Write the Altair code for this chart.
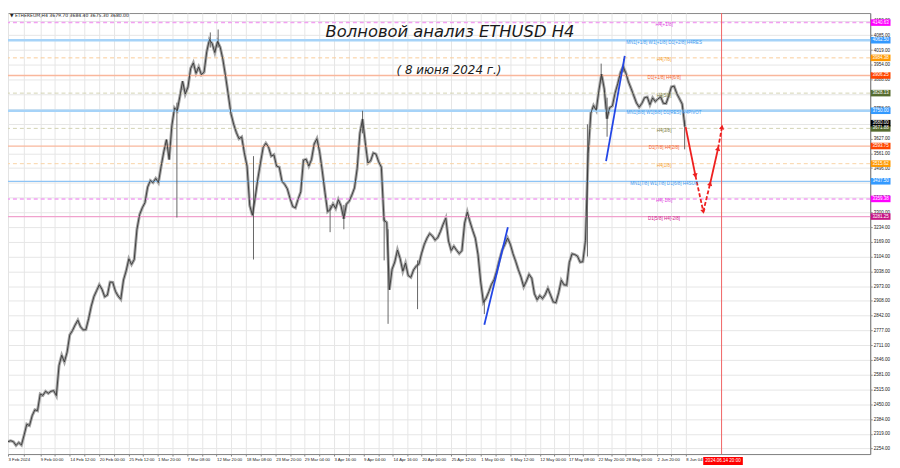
import altair as alt
import pandas as pd

# ---------------- data ----------------
# 12-hour closes of ETHUSD starting 3 Feb 2024 00:00
close = [
    2284, 2288, 2284, 2267, 2280, 2269, 2313, 2361, 2355, 2399,
    2425, 2421, 2495, 2489, 2507, 2498, 2507, 2510, 2488, 2621,
    2667, 2637, 2680, 2757, 2776, 2801, 2822, 2793, 2779, 2780,
    2828, 2884, 2927, 2953, 2979, 2959, 2926, 2933, 2991, 2990,
    2950, 2929, 2915, 3000, 3041, 3094, 3069, 3091, 3224, 3290,
    3320, 3343, 3412, 3441, 3432, 3450, 3432, 3503, 3568, 3622,
    3534, 3683, 3763, 3750, 3814, 3881, 3824, 3855, 3937, 3962,
    3916, 3944, 3910, 3921, 4012, 4066, 4048, 4008, 4057, 4032,
    3977, 3903, 3822, 3738, 3691, 3654, 3626, 3634, 3563, 3504,
    3330, 3287, 3363, 3447, 3519, 3588, 3606, 3589, 3549, 3555,
    3505, 3500, 3438, 3424, 3404, 3362, 3326, 3320, 3358, 3391,
    3531, 3535, 3505, 3534, 3603, 3626, 3569, 3484, 3389, 3303,
    3313, 3337, 3317, 3356, 3328, 3272, 3336, 3349, 3376, 3408,
    3494, 3650, 3713, 3611, 3518, 3528, 3563, 3558, 3524, 3500,
    3265, 3255, 2957, 3048, 3080, 3133, 3095, 3039, 3075, 3020,
    3012, 3045, 3062, 3071, 3119, 3158, 3186, 3206, 3195, 3177,
    3188, 3215, 3247, 3274, 3173, 3131, 3150, 3132, 3117, 3130,
    3252, 3301, 3258, 3220, 3185, 3112, 2991, 2901, 2919, 2948,
    2981, 3002, 3043, 3091, 3133, 3158, 3186, 3159, 3117, 3083,
    3046, 3013, 2970, 2995, 3025, 3008, 2939, 2913, 2931, 2918,
    2935, 2963, 2933, 2903, 2900, 2943, 2999, 2979, 2977, 3078,
    3116, 3113, 3106, 3079, 3081, 3175, 3560, 3740, 3773, 3752,
    3841, 3912, 3846, 3715, 3764, 3771, 3827, 3869, 3918, 3945,
    3918, 3878, 3848, 3816, 3784, 3766, 3783, 3808, 3811, 3777,
    3807, 3791, 3803, 3811, 3783, 3782, 3816, 3856, 3859, 3826,
    3803, 3780, 3680,
]
step_days = 0.5
days = [i * step_days for i in range(len(close))]

# long wicks (day, high, low)
wick_day = [31.44, 37.66, 39.12, 45.70, 59.96, 62.52, 66.00, 70.02, 70.75, 76.24,
            88.67, 107.86, 110.42, 111.52, 114.63, 125.96]
wick_high = [3786, 4097, 4110, 3549, 3333, 3333, 3750, 3277, 3225, 3087,
             2914, 3690, 3959, 3808, 3980, 3708]
wick_low = [3277, 4030, 4030, 3091, 3212, 3225, 3650, 3087, 2806, 2871,
            2849, 3104, 3885, 3635, 3920, 3579]

# Murrey levels
level_price = [4140.63, 4062.50, 3984.38, 3906.25, 3828.13, 3750.00,
               3671.88, 3593.75, 3515.62, 3437.50, 3359.38, 3281.25]
level_text = ["H4[+1/8]", "MN1[+1/8] W1[+1/8] D1[+2/8] H4RES", "H4[7/8]",
              "D1[+1/8] H4[6/8]", "H4[5/8]", "MN1[8/8] W1[8/8] D1[RES] H4PIVOT",
              "H4[3/8]", "D1[7/8] H4[2/8]", "H4[1/8]", "MN1[7/8] W1[7/8] D1[6/8] H4SUP",
              "H4[-1/8]", "D1[5/8] H4[-2/8]"]
level_line_color = ["#f2a0f2", "#a6d3f8", "#f9cb98", "#f9b79c", "#d3d3b4", "#a6d3f8",
                    "#d3d3b4", "#f9b79c", "#f9d3a6", "#8ec4f5", "#f2a0f2", "#f0a2cd"]
level_width = [1.5, 2.5, 1, 1.3, 1, 2.5, 1, 1.3, 1, 1.3, 1.5, 1.3]
level_dashed = [True, False, True, False, True, False, True, False, True, False, True, False]
level_text_color = ["#e03ce0", "#3d9bf0", "#f5a030", "#f2622e", "#7c7c40", "#3d9bf0",
                    "#7c7c40", "#f2622e", "#f5a030", "#3d9bf0", "#e03ce0", "#d0208a"]
level_box_color = ["#ff00ff", "#3399ff", "#ff9900", "#ff4500", "#556b2f", "#3399ff",
                   "#556b2f", "#ff4500", "#ff9900", "#3399ff", "#ff00ff", "#c71585"]

current_price = 3680.00
current_box_pos = 3695

# wave lines (blue)
wave_id = [1, 1, 2, 2]
wave_day = [88.67, 93.05, 111.33, 114.81]
wave_price = [2802, 3234, 3527, 3993]

# forecast path (red)
fc_day = [126.14, 127.97, 129.43, 130.71, 132.18, 132.91]
fc_price = [3678, 3462, 3303, 3428, 3583, 3678]
fc_seg_dashed = [False, True, True, False, True]
fc_arrow_angle = [169, 168, 14, 12.5, 10]

# axes
price_ticks = [2254, 2319, 2384, 2450, 2515, 2581, 2646, 2711, 2777, 2842, 2908, 2973,
               3038, 3104, 3169, 3234, 3300, 3365, 3430, 3496, 3561, 3627, 3692, 3758,
               3823, 3888, 3954, 4019, 4085, 4150]
hidden_price_labels = [3430, 3823]  # covered by level boxes in the reference
time_label_day = [0, 6, 11.5, 17, 22.5, 27.833, 33.333, 38.833, 44.333, 49.833, 55.167,
                  60.667, 66.167, 71.667, 77, 82.5, 88, 93.5, 99, 104.333, 109.833, 115,
                  120.833, 126.167]
time_label_text = ["3 Feb 2024", "9 Feb 00:00", "14 Feb 12:00", "20 Feb 00:00",
                   "25 Feb 12:00", "1 Mar 20:00", "7 Mar 08:00", "12 Mar 20:00",
                   "18 Mar 08:00", "23 Mar 20:00", "29 Mar 04:00", "3 Apr 16:00",
                   "9 Apr 04:00", "14 Apr 16:00", "20 Apr 00:00", "25 Apr 12:00",
                   "1 May 00:00", "6 May 12:00", "12 May 00:00", "17 May 08:00",
                   "22 May 20:00", "28 May 00:00", "2 Jun 20:00", "8 Jun 04"]
now_line_day = 132.833
now_line_text = "2024.06.14 20:00"

header_text = "\u25bc ETHEREUM,H4  3679.70 3684.40 3675.30 3680.00"
title_text = "Волновой анализ ETHUSD H4"
subtitle_text = "( 8 июня 2024 г.)"

# ---------------- chart ----------------
W, H = 870, 445
FS = 4.6
xs = alt.Scale(domain=[0, 160.5], nice=False, zero=False)
ys = alt.Scale(domain=[2229, 4183], nice=False, zero=False)

mid_days = [(a + b) / 2 for a, b in zip(time_label_day[:-1], time_label_day[1:])]
grid_days = sorted(time_label_day + mid_days)
expr = "''"
for d, t in reversed(list(zip(time_label_day, time_label_text))):
    expr = f"abs(datum.value - {d}) < 0.01 ? '{t}' : ({expr})"

hidden_cond = " || ".join(f"datum.value == {v}" for v in hidden_price_labels)
y_expr = f"({hidden_cond}) ? '' : format(datum.value, '.2f')"

x_axis = alt.Axis(values=grid_days, labelExpr=expr, labelAlign="left", labelFontSize=4.3,
                  labelColor="#222", labelPadding=1.5, labelOverlap=False, labelFlush=False,
                  tickSize=2, tickColor="#888", domainColor="#888", gridColor="#e6e6e6",
                  gridWidth=1, title=None, labelFont="Liberation Sans")
y_axis = alt.Axis(orient="right", values=price_ticks, labelExpr=y_expr,
                  labelAlign="left", labelFontSize=FS, labelColor="#222", labelPadding=1,
                  labelOverlap=False, labelFlush=False, tickSize=2, tickColor="#888",
                  domainColor="#888", gridColor="#e6e6e6", gridWidth=1, title=None,
                  labelFont="Liberation Sans")

price_df = pd.DataFrame({"day": days, "close": close})
wick_df = pd.DataFrame({"day": wick_day, "high": wick_high, "low": wick_low})
lev_df = pd.DataFrame({
    "price": level_price, "label": level_text, "line_color": level_line_color,
    "width": level_width, "dashed": level_dashed, "text_color": level_text_color,
})
box_df = pd.DataFrame({
    "price": level_price + [current_box_pos],
    "box_color": level_box_color + ["#000000"],
    "box_text": [f"{p:.2f}" for p in level_price] + [f"{current_price:.2f}"],
})
wave_df = pd.DataFrame({"id": wave_id, "day": wave_day, "price": wave_price})
seg_rows = []
for s, dashed in enumerate(fc_seg_dashed):
    for k in (s, s + 1):
        seg_rows.append({"seg": s, "day": fc_day[k], "price": fc_price[k], "dashed": dashed})
seg_df = pd.DataFrame(seg_rows)
arrow_df = pd.DataFrame({"day": fc_day[1:], "price": fc_price[1:], "ang": fc_arrow_angle})


def X(f):
    return alt.X(f, type="quantitative", scale=xs, axis=x_axis)


def Y(f):
    return alt.Y(f, type="quantitative", scale=ys, axis=y_axis)


base = alt.Chart(price_df).mark_line(color="#a6a6a6", strokeWidth=3).encode(
    x=X("day"), y=Y("close"))

lev_solid = alt.Chart(lev_df).transform_filter("!datum.dashed").mark_rule().encode(
    y=Y("price"), color=alt.Color("line_color:N", scale=None),
    strokeWidth=alt.StrokeWidth("width:Q", scale=None))
lev_dashed = alt.Chart(lev_df).transform_filter("datum.dashed").mark_rule(strokeDash=[4, 3]).encode(
    y=Y("price"), color=alt.Color("line_color:N", scale=None),
    strokeWidth=alt.StrokeWidth("width:Q", scale=None))

now_rule = alt.Chart(pd.DataFrame({"day": [now_line_day]})).mark_rule(
    color="#f06464", strokeWidth=1).encode(x=X("day"))

wicks = alt.Chart(wick_df).mark_rule(color="#666", strokeWidth=1).encode(
    x=X("day"), y=Y("low"), y2="high")
front = alt.Chart(price_df).mark_line(color="#353535", strokeWidth=0.9).encode(
    x=X("day"), y=Y("close"))

waves = alt.Chart(wave_df).mark_line(color="#2346e6", strokeWidth=1.8).encode(
    x=X("day"), y=Y("price"), detail="id:N")

fc_solid = alt.Chart(seg_df).transform_filter("!datum.dashed").mark_line(
    color="#ee2020", strokeWidth=1.8).encode(x=X("day"), y=Y("price"), detail="seg:N")
fc_dash = alt.Chart(seg_df).transform_filter("datum.dashed").mark_line(
    color="#ee2020", strokeWidth=1.8, strokeDash=[4, 2]).encode(
    x=X("day"), y=Y("price"), detail="seg:N")
arrows = alt.Chart(arrow_df).mark_point(shape="triangle-up", size=28, filled=True,
                                         color="#ee2020", opacity=1).encode(
    x=X("day"), y=Y("price"), angle=alt.Angle("ang:Q", scale=None))

lev_text = alt.Chart(lev_df).mark_text(fontSize=FS, align="center", baseline="middle",
                                        dy=2.5, font="Liberation Sans").encode(
    x=alt.value(662), y=Y("price"), text="label:N",
    color=alt.Color("text_color:N", scale=None))

BOX = "M-1,-0.33H1V0.33H-1Z"
boxes = alt.Chart(box_df).mark_point(shape=BOX, size=400, filled=True, opacity=1,
                                      strokeWidth=0).encode(
    x=alt.value(880.5), y=Y("price"), color=alt.Color("box_color:N", scale=None))
box_text = alt.Chart(box_df).mark_text(fontSize=FS, color="white", align="center",
                                        baseline="middle", font="Liberation Sans").encode(
    x=alt.value(880.5), y=Y("price"), text="box_text:N")

tdf = pd.DataFrame({"t": [now_line_text]})
time_box = alt.Chart(tdf).mark_point(shape="M-1,-0.2H1V0.2H-1Z", size=1600, filled=True,
                                      opacity=1, strokeWidth=0, color="#ff0000").encode(
    x=alt.value(721.5), y=alt.value(452))
time_text = alt.Chart(tdf).mark_text(fontSize=FS, color="white", align="center",
                                      baseline="middle", font="Liberation Sans").encode(
    x=alt.value(721.5), y=alt.value(452), text="t:N")

header = alt.Chart(pd.DataFrame({"t": [header_text]})).mark_text(
    fontSize=FS, color="#222", align="left", baseline="middle", font="DejaVu Sans").encode(
    x=alt.value(2), y=alt.value(2.5), text="t:N")
title = alt.Chart(pd.DataFrame({"t": [title_text]})).mark_text(
    fontSize=16.5, fontStyle="italic", color="#1a1a1a", align="center", baseline="middle",
    font="DejaVu Sans").encode(x=alt.value(446), y=alt.value(19), text="t:N")
subtitle = alt.Chart(pd.DataFrame({"t": [subtitle_text]})).mark_text(
    fontSize=12, fontStyle="italic", color="#1a1a1a", align="center", baseline="middle",
    font="DejaVu Sans").encode(x=alt.value(445), y=alt.value(58), text="t:N")

chart = alt.layer(
    base, lev_solid, lev_dashed, now_rule, wicks, front, waves, fc_solid, fc_dash, arrows,
    lev_text, boxes, box_text, time_box, time_text, header, title, subtitle,
).properties(
    width=W, height=H,
    autosize=alt.AutoSizeParams(type="none"),
    padding={"left": 0, "top": 3, "right": 22, "bottom": 12},
    background="white",
).configure_view(stroke="#8a8a8a", strokeWidth=1)

chart.save("out.html", embed_options={"renderer": "svg", "actions": False})
